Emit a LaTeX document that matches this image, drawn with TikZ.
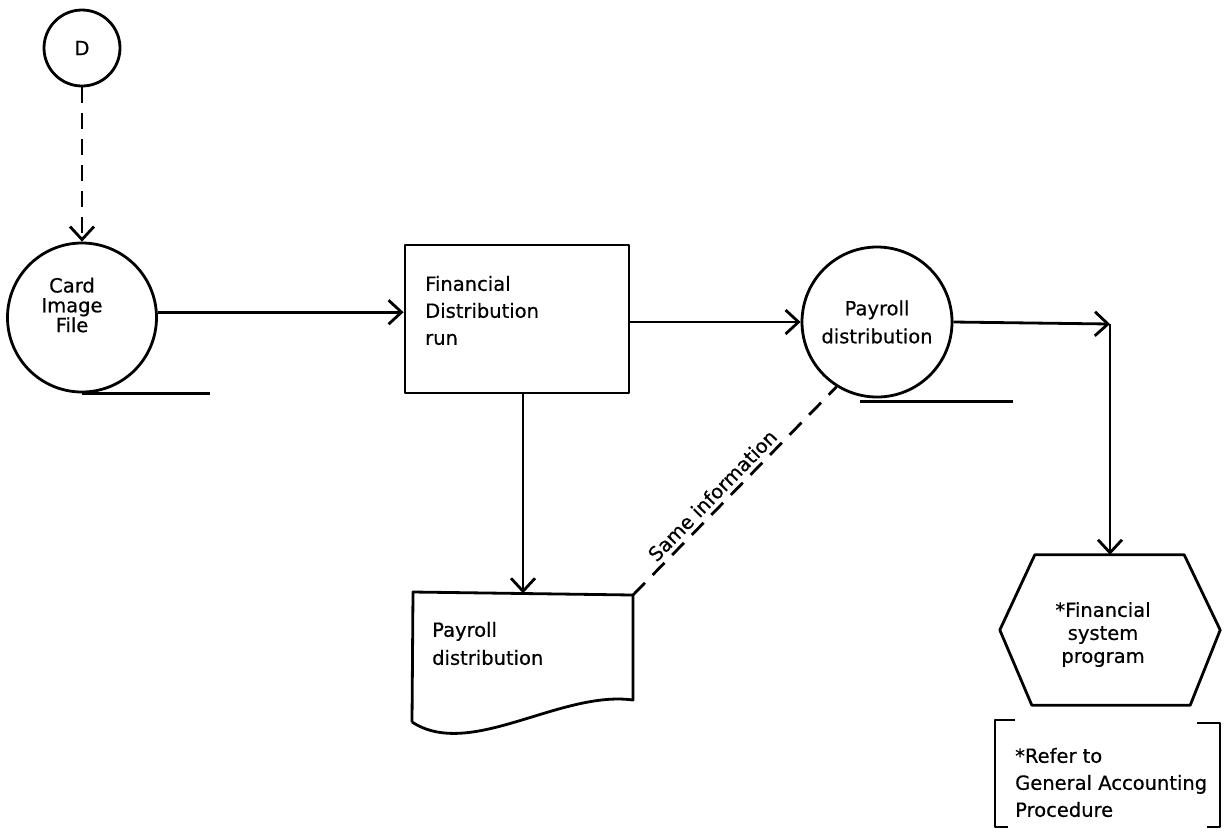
\documentclass[tikz,border=0pt]{standalone}
\usepackage{fontspec}
\setmainfont{DejaVu Sans}[UprightFeatures={FakeBold=0.5}]
\usetikzlibrary{arrows.meta,calc}
\begin{document}
\begin{tikzpicture}[x=1pt, y=-1pt,
  every node/.style={font=\fontsize{19.5}{27}\selectfont, inner sep=0pt},
  line/.style={line width=2.8pt, line join=round},
  flow/.style={line, -{Straight Barb[length=13pt,width=24pt]}},
  dashline/.style={line, dash pattern=on 17pt off 11pt},
  store/.style={circle, draw, line},
]
\useasboundingbox (0,0) rectangle (1230,831);

% connector symbol
\node[store, minimum size=76] (d) at (82,48) {D};

% card image file
\node[store, minimum size=149] (card) at (82,317.5) {};
\node[align=center, font=\fontsize{19.5}{19.8}\selectfont] (cardtxt) at (72,305) {Card\\Image\\File};

% processing run
\node[draw, line, minimum width=224, minimum height=148] (fd) at (517,319) {};
\node[align=left, anchor=west] (fdtxt) at (425,310.5) {Financial\\Distribution\\run};

% payroll distribution file
\node[store, minimum size=150, align=center, font=\fontsize{19.5}{28}\selectfont] (pd) at (877,322) {Payroll\\distribution};

% printed document
\coordinate (docnw) at (413,592);
\coordinate (docne) at (633,595);
\coordinate (docse) at (633,700);
\coordinate (docsw) at (412,722);
\coordinate (doctop) at (523,593.3);
\draw[line] (docsw) -- (docnw) -- (docne) -- (docse)
  .. controls (560,690) and (470,760) .. (docsw);
\node[align=left, anchor=west, font=\fontsize{19.5}{28}\selectfont] (doctxt) at (432,643.5) {Payroll\\distribution};

% program hexagon
\node[minimum width=220, minimum height=150] (hex) at (1110,630) {};
\draw[line] (hex.west) -- ($(hex.north west)+(35,0)$) -- ($(hex.north east)+(-36,0)$)
  -- (hex.east) -- ($(hex.south east)+(-30,0)$) -- ($(hex.south west)+(32,0)$) -- cycle;
\node[align=center, font=\fontsize{19.5}{23}\selectfont] (hextxt) at (1103,634.5) {*Financial\\system\\program};

% bracketed note
\node[align=left, anchor=west] (note) at (1015,782.5) {*Refer to\\General Accounting\\Procedure};
\draw[line] (1015,720) -- (995,720) -- (995,827) -- (1008,827);
\draw[line] (1197,723) -- (1220,723) -- (1220,827) -- (1207,827);

% connectors
\draw[dashline, dash pattern=on 16pt off 10pt, -{Straight Barb[length=13pt,width=24pt]}] (d.south) -- (card.north);
\draw[flow] (card.4) -- (card.4 -| fd.west);
\draw[line] (card.south) -- ++(128,0);
\draw[flow] (fd.east |- pd.west) -- (pd.west);
\coordinate (corner) at (1110,324);
\draw[flow] (pd.east) -- (corner);
\draw[flow] (corner) -- (corner |- hex.north);
\draw[line] ($(pd.south)+(-17,3)$) -- ++(153,0);
\draw[flow] (fd.south -| doctop) -- (doctop);
\draw[dashline] (docne) -- (pd.-122)
  node[pos=0.435, sloped, above=4pt] (same) {Same information};
\end{tikzpicture}
\end{document}
